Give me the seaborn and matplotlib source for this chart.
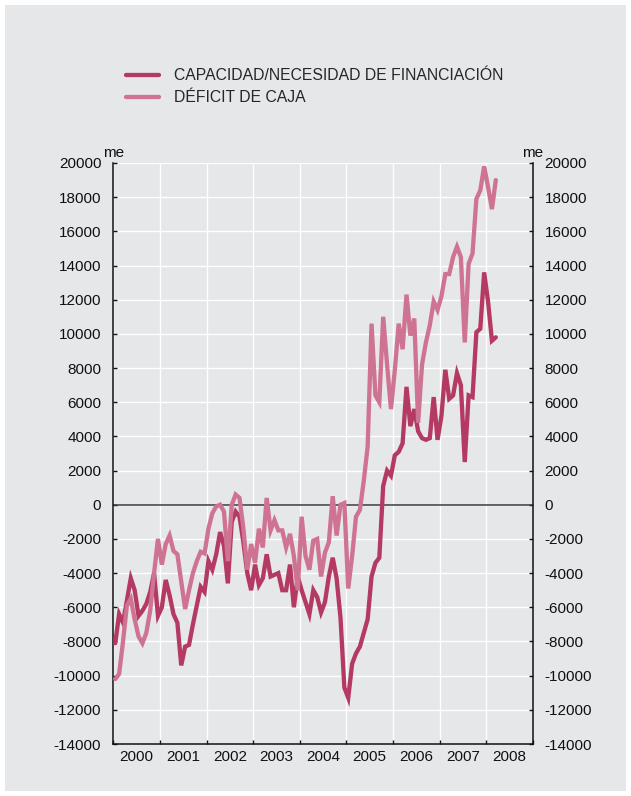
import numpy as np
import pandas as pd
import matplotlib
matplotlib.use("Agg")
import matplotlib.pyplot as plt
from matplotlib.lines import Line2D
from matplotlib.patches import Rectangle
import seaborn as sns

# Monthly series, January 2000 to March 2008 (millones de euros)
capacidad = [
    -8100, -6400, -6900, -5600, -4300, -5000, -6500, -6200, -5800, -5100, -4000, -6500,
    -6000, -4400, -5300, -6400, -6900, -9400, -8300, -8200, -7000, -5900, -4800, -5100,
    -3300, -3800, -2900, -1600, -2400, -4600, -1000, -400, -700, -2200, -4000, -5000,
    -3500, -4700, -4300, -2900, -4200, -4100, -4000, -5000, -5000, -3500, -6000, -4200,
    -5000, -5700, -6400, -5000, -5400, -6300, -5700, -4200, -3100, -4300, -6600, -10700,
    -11300, -9300, -8700, -8300, -7500, -6700, -4200, -3400, -3100, 1100, 2000, 1700,
    2900, 3100, 3600, 6900, 4600, 5600, 4300, 3900, 3800, 3900, 6300, 3800,
    5200, 7900, 6200, 6400, 7700, 7000, 2500, 6400, 6300, 10100, 10300, 13600,
    11900, 9600, 9800,
]
deficit = [
    -10200, -9900, -8000, -5900, -5500, -6700, -7700, -8100, -7500, -6200, -4000, -2000,
    -3500, -2300, -1800, -2700, -2900, -4500, -6100, -5000, -4000, -3300, -2750, -2850,
    -1400, -500, -100, 0, -400, -3300, 0, 600, 400, -1400, -3800, -2300,
    -3400, -1400, -2500, 400, -1500, -900, -1500, -1500, -2500, -1700, -3000, -5000,
    -700, -3000, -3800, -2100, -2000, -4200, -2800, -2200, 500, -1800, 0, 100,
    -4900, -3000, -700, -300, 1400, 3400, 10600, 6400, 6000, 11000, 8200, 5600,
    7900, 10600, 9100, 12300, 9900, 10900, 4800, 8200, 9500, 10500, 11900, 11400,
    12200, 13500, 13500, 14500, 15100, 14500, 9500, 14100, 14700, 17900, 18400, 19800,
    18600, 17300, 19000,
]
years = list(range(2000, 2009))
y_ticks = list(range(-14000, 20001, 2000))
series_labels = ["CAPACIDAD/NECESIDAD DE FINANCIACIÓN", "DÉFICIT DE CAJA"]

BG = "#E6E7E9"
C_DARK = "#B43A63"
C_LIGHT = "#CF7393"

sns.set_style("white", rc={"axes.facecolor": BG, "figure.facecolor": "white"})
plt.rcParams["font.family"] = ["Liberation Sans", "DejaVu Sans"]
plt.rcParams["axes.unicode_minus"] = False

W, H = 631, 796
fig = plt.figure(figsize=(W / 100, H / 100), dpi=100)
fig.patches.append(Rectangle((5 / W, 5 / H), 1 - 10 / W, 1 - 10 / H,
                             transform=fig.transFigure, facecolor=BG,
                             edgecolor="none", zorder=-10))

left, right, top, bottom = 113.3, 532.7, 163.0, 744.0
ax = fig.add_axes([left / W, 1 - bottom / H, (right - left) / W, (bottom - top) / H])
ax.set_facecolor(BG)

n = len(capacidad)
month_pos = 2000 + (np.arange(n) + 0.5) / 12.0
df = pd.DataFrame({"fecha": month_pos, "capacidad": capacidad, "deficit": deficit})

ax.axhline(0, color="#3a3a3a", lw=1.1, zorder=1.5)
sns.lineplot(data=df, x="fecha", y="capacidad", color=C_DARK, lw=3.1, ax=ax,
             zorder=3, solid_joinstyle="miter")
sns.lineplot(data=df, x="fecha", y="deficit", color=C_LIGHT, lw=3.1, ax=ax,
             zorder=4, solid_joinstyle="miter")

ax.set_xlim(2000, 2009)
ax.set_ylim(-14000, 20000)
ax.set_xlabel("")
ax.set_ylabel("")

ax.set_yticks(y_ticks)
ax.set_yticklabels([str(v) for v in y_ticks])
ax.set_xticks(list(range(2000, 2010)))
ax.set_xticklabels([])
ax.set_xticks([y + 0.5 for y in years], minor=True)
ax.set_xticklabels([str(y) for y in years], minor=True)

ax.grid(True, which="major", color="white", lw=1.0)
ax.set_axisbelow(True)

for side in ("left", "right", "bottom"):
    ax.spines[side].set_visible(True)
    ax.spines[side].set_color("#111111")
    ax.spines[side].set_linewidth(1.1)
ax.spines["top"].set_visible(False)

ax.tick_params(axis="y", which="major", direction="in", length=3, width=1,
               left=True, right=True, labelleft=True, labelright=True,
               labelsize=11, pad=8.6, colors="#111111")
ax.tick_params(axis="x", which="major", direction="in", length=3, width=1,
               bottom=True, colors="#111111")
ax.tick_params(axis="x", which="minor", length=0, labelsize=11, pad=4,
               colors="#111111")

for xpos in (0.0, 1.0):
    ax.annotate("me", xy=(xpos, 1.0), xycoords="axes fraction",
                xytext=(0, 4.5), textcoords="offset points",
                ha="center", va="baseline", fontsize=11, color="#111111")

handles = [Line2D([], [], color=C_DARK, lw=3.1),
           Line2D([], [], color=C_LIGHT, lw=3.1)]
fig.legend(handles, series_labels, loc="upper left",
           bbox_to_anchor=(126 / W, 1 - 68 / H), frameon=False,
           fontsize=11.3, handlelength=2.1, handletextpad=0.95,
           labelspacing=0.45, borderpad=0, borderaxespad=0)

fig.savefig("out.png", dpi=100, facecolor="white")
